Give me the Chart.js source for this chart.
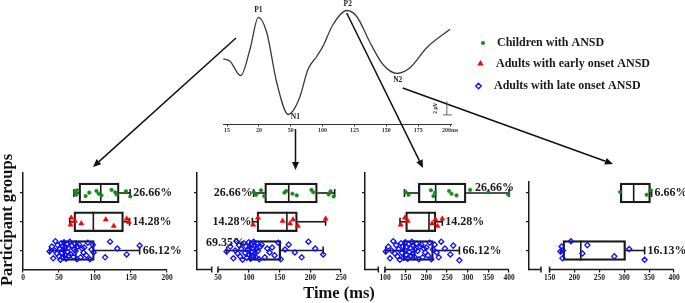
<!DOCTYPE html>
<html><head><meta charset="utf-8">
<script src="https://cdn.jsdelivr.net/npm/chart.js@4/dist/chart.umd.min.js"></script>
<style>
html,body{margin:0;padding:0;background:#fff;}
#wrap{position:relative;width:685px;height:303px;overflow:hidden;background:#fff;}
canvas{position:absolute;left:0;top:0;}
</style></head><body><div id="wrap">
<canvas id="p1" width="685" height="303"></canvas>
<canvas id="p2" width="685" height="303"></canvas>
<canvas id="p3" width="685" height="303"></canvas>
<canvas id="p4" width="685" height="303"></canvas>
<canvas id="wave" width="685" height="303"></canvas>
</div>
<script>
// ---------------- DATA ----------------
const GROUPS = ['Children with ANSD', 'Adults with early onset ANSD', 'Adults with late onset ANSD'];

// waveform (x in tick-index units, y amplitude in µV-like units)
const WAVE_TICKS = ['15', '20', '50', '100', '125', '150', '175', '200ms'];
const WAVE_X = [-0.116, 0.094, 0.43, 0.722, 0.982, 1.246, 1.56, 1.924, 2.062, 2.291, 2.542, 2.815, 3.013, 3.327, 3.757, 4.071, 4.488, 4.896, 5.326, 5.744, 6.268, 6.999];
const WAVE_Y = [8.2, 7.9, 6.1, 9.4, 13.4, 11.5, 5.25, 1.25, 1.66, 3.5, 6.9, 8.5, 9.8, 12.5, 14.25, 13.5, 10.25, 7.5, 6.4, 7.1, 9.6, 11.9];
const WAVE_PEAKS = ['P1', 'N1', 'P2', 'N2'];
const WAVE_PEAK_IDX = [4, 7, 14, 18];

// box stats: [whiskerMin, Q1, median, Q3, whiskerMax]; order children, early, late
const P1_BOX = [[70.7, 77.7, 108, 133.5, 148.8], [65, 70.7, 97.7, 139.5, 148], [37, 56, 73.5, 99, 162]];
const P2_BOX = [[108, 126, 165, 211.5, 239.7], [106, 113.4, 162, 179, 225], [64, 101, 111, 152, 221]];
const P3_BOX = [[147, 180.6, 222.6, 296, 400], [136.3, 150, 206.4, 223.3, 238.6], [101.6, 144.3, 171, 217, 280]];
const P4_BOX = [[292, 292, 319, 352.7, 355], null, [172.3, 177, 212.8, 302.7, 341]];

// individual latencies (ms)
const P1_CHILD = [72, 74, 75, 87, 92, 102, 105, 109, 123, 128, 130, 143, 149];
const P1_EARLY = [66, 67, 72, 81, 115, 126, 144, 147];
const P1_LATE = [37, 40, 42, 44, 45, 47, 48, 50, 51, 52, 53, 54, 55, 55, 56, 57, 58, 59, 60, 61, 62, 63, 64, 65, 66, 68, 70, 71, 72, 73, 75, 76, 78, 80, 82, 84, 85, 88, 90, 93, 95, 97, 98, 114, 121, 131, 144, 162];
const P2_CHILD = [108, 112, 120, 125, 158, 161, 171, 178, 202, 205, 230, 233, 238];
const P2_EARLY = [107, 115, 155, 167, 172, 180, 225];
const P2_LATE = [64, 70, 75, 78, 80, 82, 84, 86, 88, 90, 92, 94, 95, 97, 99, 100, 101, 102, 103, 104, 105, 106, 107, 108, 109, 110, 111, 112, 113, 115, 117, 119, 121, 126, 130, 134, 138, 142, 148, 152, 159, 165, 175, 186, 197, 208, 221];
const P3_CHILD = [150, 157, 211, 217, 221, 255, 261, 273, 306, 350, 398];
const P3_EARLY = [138, 148, 155, 214, 222, 227, 238.6];
const P3_LATE = [102, 108, 112, 116, 120, 124, 127, 130, 133, 136, 139, 141, 143, 145, 147, 149, 151, 153, 155, 157, 159, 161, 163, 165, 167, 169, 171, 173, 176, 179, 182, 185, 188, 191, 194, 197, 200, 204, 208, 212, 216, 220, 225, 230, 236, 245, 258, 265, 280];
const P4_CHILD = [292, 345, 353];
const P4_LATE = [172, 174, 176, 177, 193, 216, 226, 280, 310, 341];

// percentages
const P1_PCT = ['26.66%', '14.28%', '66.12%'];
const P2_PCT = ['26.66%', '14.28%', '69.35%'];
const P3_PCT = ['26.66%', '14.28%', '66.12%'];
const P4_PCT = ['6.66%', null, '16.13%'];

// x tick labels
const P1_TICKS = [0, 50, 100, 150, 200];
const P2_TICKS = [50, 100, 150, 200, 250];
const P3_TICKS = [100, 150, 200, 250, 300, 350, 400];
const P4_TICKS = [150, 200, 250, 300, 350, 400];

// ---------------- LAYOUT / STYLE ----------------
const ROWS = [2, 1, 0];
const JITTER = [0.3, -0.5, 0.8, -0.9, 0.1, 0.6, -0.2, -0.7, 0.9, 0.2, -0.4, 0.5, -1.0, 0.7, -0.1, 0.4, -0.8, 0.0, 0.95, -0.3, 0.55, -0.6, 0.15, -0.95, 0.75, -0.25, 0.45, -0.75, 0.05, 0.85, -0.45, 0.35, -0.85, 0.65, -0.15, 0.25, -0.55, 0.9, -0.35, 0.5, -0.65, 0.1, 0.7, -0.05, -0.9, 0.4, 0.6, -0.7, 0.2, -0.2];
const JSCALE = [0.12, 0.15, 0.34];
const SERIF = '"Liberation Serif", "DejaVu Serif", serif';
const INK = '#1a1a1a';
const PSTYLE = [
  {pointStyle: 'circle', radius: 1.8, backgroundColor: '#168a16', borderColor: '#168a16', borderWidth: 0.5},
  {pointStyle: 'triangle', radius: 3, backgroundColor: '#ff0000', borderColor: '#ff0000', borderWidth: 0.5},
  {pointStyle: 'rectRot', radius: 2.6, backgroundColor: 'rgba(255,255,255,0)', borderColor: '#1010ff', borderWidth: 1.3}
];
const YW = 8, XH = 16, AXIS_Y = 269.5, YMIN = -0.661;
const PANELS = [
  {id: 'p1', left: 23, right: 167, top: 173, xmin: 0, xmax: 200, ymax: 2.696, brk: null,
   box: P1_BOX, pts: [P1_CHILD, P1_EARLY, P1_LATE], pct: P1_PCT, ticks: P1_TICKS,
   pos: [['after', 3, 0], ['after', 3, 0], ['after', 3, 0]]},
  {id: 'p2', left: 197, right: 341, top: 173, xmin: 15.85, xmax: 250, ymax: 2.696, brk: [39.75, 50],
   box: P2_BOX, pts: [P2_CHILD, P2_EARLY, P2_LATE], pct: P2_PCT, ticks: P2_TICKS,
   pos: [['before', -1, 0], ['before', -1, 0], ['center', -1, -8]]},
  {id: 'p3', left: 365, right: 509, top: 173, xmin: 51.6, xmax: 400, ymax: 2.696, brk: [83.8, 100],
   box: P3_BOX, pts: [P3_CHILD, P3_EARLY, P3_LATE], pct: P3_PCT, ticks: P3_TICKS,
   pos: [['after', -34, -5.5], ['after', 3, 0], ['after', 3, 0]]},
  {id: 'p4', left: 529, right: 674, top: 182, xmin: 108.8, xmax: 400, ymax: 2.383, brk: [132.9, 150],
   box: P4_BOX, pts: [P4_CHILD, null, P4_LATE], pct: P4_PCT, ticks: P4_TICKS,
   pos: [['after', 3, 0], null, ['after', 3, 0]]}
];

Chart.defaults.font.family = SERIF;

function seg(ctx, x1, y1, x2, y2) { ctx.beginPath(); ctx.moveTo(x1, y1); ctx.lineTo(x2, y2); ctx.stroke(); }

function makePanel(P) {
  const barData = [];
  P.box.forEach((b, g) => { if (b) barData.push({y: ROWS[g], x: [b[1], b[3]]}); });
  const datasets = [{type: 'bar', data: barData, backgroundColor: 'rgba(255,255,255,0)', borderColor: INK,
    borderWidth: 1.6, borderSkipped: false, barThickness: 20, order: 2}];
  P.pts.forEach((arr, g) => {
    if (!arr) return;
    datasets.push(Object.assign({type: 'scatter', label: GROUPS[g], order: 0, clip: false,
      data: arr.map((v, i) => ({x: v, y: ROWS[g] + JITTER[(i + g * 7) % JITTER.length] * JSCALE[g]}))}, PSTYLE[g]));
  });
  const plug = {
    id: 'boxParts' + P.id,
    afterDatasetDraw(chart, args) {
      if (args.index !== 0) return;
      const {ctx} = chart, x = chart.scales.x, y = chart.scales.y;
      ctx.save(); ctx.strokeStyle = INK; ctx.lineWidth = 1.6;
      P.box.forEach((b, g) => {
        if (!b) return;
        const yc = y.getPixelForValue(ROWS[g]);
        const [w0, q1, md, q3, w1] = b.map(v => x.getPixelForValue(v));
        seg(ctx, md, yc - 10, md, yc + 10);
        if (w0 < q1 - 0.5) { seg(ctx, w0, yc, q1, yc); seg(ctx, w0, yc - 4, w0, yc + 4); }
        if (w1 > q3 + 0.5) { seg(ctx, q3, yc, w1, yc); seg(ctx, w1, yc - 4, w1, yc + 4); }
      });
      ctx.restore();
    },
    afterDraw(chart) {
      const {ctx} = chart, x = chart.scales.x, y = chart.scales.y, ca = chart.chartArea;
      ctx.save();
      if (P.brk) {
        const yb = x.top;
        ctx.strokeStyle = INK; ctx.lineWidth = 1.5;
        const a = x.getPixelForValue(P.brk[0]), b = x.getPixelForValue(P.brk[1]);
        seg(ctx, ca.left - 0.75, yb, a, yb); seg(ctx, b, yb, ca.right, yb);
        seg(ctx, a, yb - 3, a, yb + 3); seg(ctx, b, yb - 3, b, yb + 3);
      }
      ctx.fillStyle = INK; ctx.font = 'bold 12px ' + SERIF; ctx.textBaseline = 'middle';
      P.pct.forEach((t, g) => {
        if (!t) return;
        const [mode, dx, dy] = P.pos[g];
        const b = P.box[g];
        const yc = y.getPixelForValue(ROWS[g]) + dy;
        if (mode === 'after') { ctx.textAlign = 'left'; ctx.fillText(t, x.getPixelForValue(b[4]) + dx, yc); }
        else if (mode === 'before') { ctx.textAlign = 'right'; ctx.fillText(t, x.getPixelForValue(b[0]) + dx, yc); }
        else { ctx.textAlign = 'center'; ctx.fillText(t, x.getPixelForValue(b[0]) + dx, yc); }
      });
      ctx.restore();
    }
  };
  return new Chart(document.getElementById(P.id), {
    type: 'bar',
    data: {datasets},
    options: {
      indexAxis: 'y', responsive: false, animation: false, devicePixelRatio: 1, events: [],
      layout: {padding: {left: P.left - YW, right: 685 - P.right, top: P.top, bottom: 303 - AXIS_Y - XH}},
      plugins: {legend: {display: false}, tooltip: {enabled: false}},
      scales: {
        x: {type: 'linear', min: P.xmin, max: P.xmax, offset: false,
          afterBuildTicks: s => { s.ticks = P.ticks.map(v => ({value: v})); },
          ticks: {font: {family: SERIF, weight: 'bold', size: 7.5}, color: INK, padding: 1, maxRotation: 0, autoSkip: false},
          grid: {drawOnChartArea: false, tickLength: 3, color: INK, lineWidth: 1.2, offset: false},
          border: {display: !P.brk, color: INK, width: 1.5},
          afterFit: s => { s.height = XH; }},
        y: {type: 'linear', min: YMIN, max: P.ymax, offset: false,
          afterBuildTicks: s => { s.ticks = ROWS.map(v => ({value: v})); },
          ticks: {display: false},
          grid: {drawOnChartArea: false, tickLength: 3, color: INK, lineWidth: 1.2, offset: false},
          border: {display: true, color: INK, width: 1.5},
          afterFit: s => { s.width = YW; }}
      }
    },
    plugins: [plug]
  });
}
PANELS.forEach(makePanel);

// ---------------- waveform + annotations ----------------
const ARROWS = [[236, 38, 93, 167], [295.5, 129, 295.5, 170], [346.7, 13, 423, 168], [402.7, 88, 613, 164]];
const PEAK_OFF = [[0, -3, 'bottom'], [7, 3, 'middle'], [1, -3, 'bottom'], [1, 7, 'middle']];
const LEGEND_POS = [[483, 43, 497], [480.5, 63.5, 496], [478.5, 86, 494]];

function arrow(ctx, x1, y1, x2, y2) {
  const ang = Math.atan2(y2 - y1, x2 - x1), L = 8, W = 3.5;
  const bx = x2 - L * Math.cos(ang), by = y2 - L * Math.sin(ang);
  seg(ctx, x1, y1, bx, by);
  ctx.beginPath(); ctx.moveTo(x2, y2);
  ctx.lineTo(bx + W * Math.sin(ang), by - W * Math.cos(ang));
  ctx.lineTo(bx - W * Math.sin(ang), by + W * Math.cos(ang));
  ctx.closePath(); ctx.fill();
}

const annot = {
  id: 'annot',
  afterDraw(chart) {
    const {ctx} = chart, x = chart.scales.x, y = chart.scales.y;
    ctx.save();
    // arrows
    ctx.strokeStyle = '#111'; ctx.fillStyle = '#111'; ctx.lineWidth = 1.5;
    ARROWS.forEach(a => arrow(ctx, a[0], a[1], a[2], a[3]));
    // peak labels
    ctx.font = 'bold 7.5px ' + SERIF; ctx.fillStyle = '#222';
    WAVE_PEAKS.forEach((t, i) => {
      const k = WAVE_PEAK_IDX[i], o = PEAK_OFF[i];
      ctx.textAlign = 'center'; ctx.textBaseline = o[2];
      ctx.fillText(t, x.getPixelForValue(WAVE_X[k]) + o[0], y.getPixelForValue(WAVE_Y[k]) + o[1]);
    });
    // scale bar 2 µV
    const sx = x.getPixelForValue(6.9), sy0 = y.getPixelForValue(1.2), sy1 = y.getPixelForValue(2.9);
    ctx.strokeStyle = '#555'; ctx.lineWidth = 0.9;
    seg(ctx, sx, sy0, sx, sy1); seg(ctx, sx - 4, sy0, sx + 5, sy0);
    ctx.save(); ctx.translate(sx - 11, (sy0 + sy1) / 2); ctx.rotate(-Math.PI / 2);
    ctx.font = 'bold 5.5px ' + SERIF; ctx.textAlign = 'center'; ctx.textBaseline = 'middle';
    ctx.fillText('2 µV', 0, 0); ctx.restore();
    // legend
    ctx.font = 'bold 12px ' + SERIF; ctx.textAlign = 'left'; ctx.textBaseline = 'middle'; ctx.fillStyle = '#1a1a1a';
    GROUPS.forEach((t, g) => {
      const [mx, my, tx] = LEGEND_POS[g];
      ctx.save();
      if (g === 0) { ctx.fillStyle = '#168a16'; ctx.beginPath(); ctx.arc(mx, my, 2, 0, Math.PI * 2); ctx.fill(); }
      else if (g === 1) { ctx.fillStyle = '#ff0000'; ctx.beginPath(); ctx.moveTo(mx, my - 3.5); ctx.lineTo(mx + 3.2, my + 2); ctx.lineTo(mx - 3.2, my + 2); ctx.closePath(); ctx.fill(); }
      else { ctx.strokeStyle = '#1010ff'; ctx.lineWidth = 1.3; ctx.beginPath(); ctx.moveTo(mx, my - 2.8); ctx.lineTo(mx + 2.8, my); ctx.lineTo(mx, my + 2.8); ctx.lineTo(mx - 2.8, my); ctx.closePath(); ctx.stroke(); }
      ctx.restore();
      ctx.fillText(t, tx, my);
    });
    // axis titles
    ctx.font = 'bold 16.5px ' + SERIF; ctx.textAlign = 'center'; ctx.textBaseline = 'middle'; ctx.fillStyle = '#111';
    ctx.fillText('Time (ms)', 339, 294);
    ctx.save(); ctx.translate(8, 220); ctx.rotate(-Math.PI / 2); ctx.fillText('Participant groups', 0, 0); ctx.restore();
    ctx.restore();
  }
};

const WXH = 14;
new Chart(document.getElementById('wave'), {
  type: 'line',
  data: {datasets: [{data: WAVE_X.map((v, i) => ({x: v, y: WAVE_Y[i]})), borderColor: '#3a3a3a', borderWidth: 1.3,
    pointRadius: 0, cubicInterpolationMode: 'monotone', fill: false, clip: false}]},
  options: {
    responsive: false, animation: false, devicePixelRatio: 1, events: [],
    layout: {padding: {left: 223, right: 685 - 451, top: 0, bottom: 303 - 124.5 - WXH}},
    plugins: {legend: {display: false}, tooltip: {enabled: false}},
    scales: {
      x: {type: 'linear', min: -0.126, max: 7.03,
        afterBuildTicks: s => { s.ticks = WAVE_TICKS.map((t, i) => ({value: i})); },
        ticks: {callback: v => WAVE_TICKS[Math.round(v)], font: {family: SERIF, weight: 'bold', size: 6}, color: '#333', padding: 0, maxRotation: 0, autoSkip: false},
        grid: {drawOnChartArea: false, tickLength: 2, color: '#333', lineWidth: 1},
        border: {color: '#333', width: 1},
        afterFit: s => { s.height = WXH; }},
      y: {type: 'linear', display: false, min: 0, max: 15.56}
    }
  },
  plugins: [annot]
});
</script>
</body></html>
